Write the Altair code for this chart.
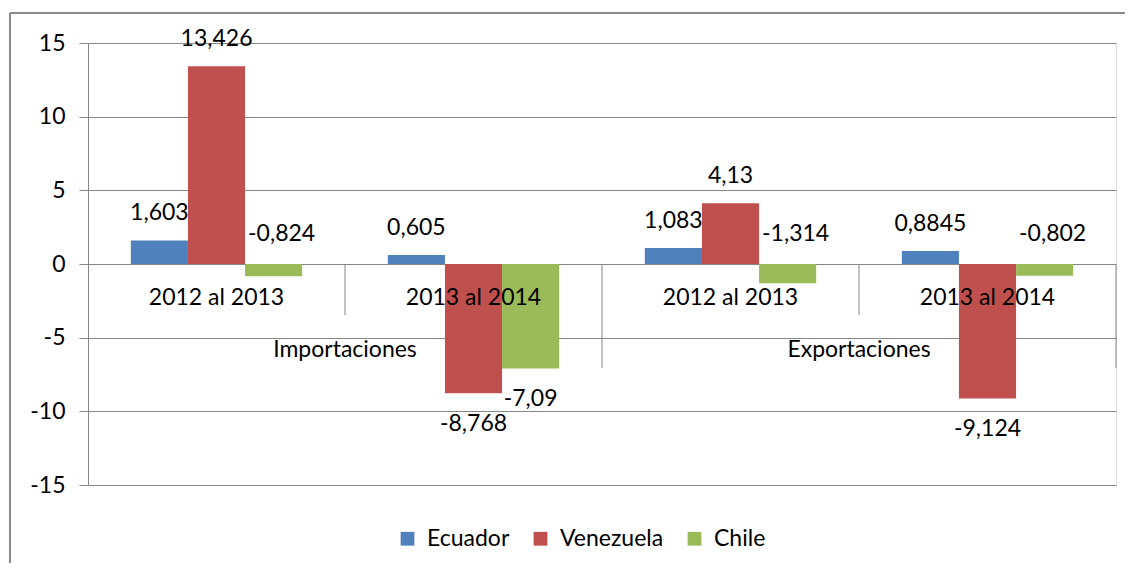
import altair as alt
import pandas as pd

FONT = "Lato"

groups = ["I1", "I2", "E1", "E2"]
periods = ["2012 al 2013", "2013 al 2014", "2012 al 2013", "2013 al 2014"]
flow_groups = ["I2", "E2"]
flows = ["Importaciones", "Exportaciones"]
series = ["Ecuador", "Venezuela", "Chile"]
ecuador = [1.603, 0.605, 1.083, 0.8845]
venezuela = [13.426, -8.768, 4.13, -9.124]
chile = [-0.824, -7.09, -1.314, -0.802]
colors = ["#4F81BD", "#C0504D", "#9BBB59"]
y_ticks = [-15, -10, -5, 0, 5, 10, 15]

rows = []
for i, g in enumerate(groups):
    for s, vals in zip(series, [ecuador, venezuela, chile]):
        rows.append({"g": g, "serie": s, "v": vals[i]})
df = pd.DataFrame(rows)
period_df = pd.DataFrame({"g": groups, "label": periods})
flow_df = pd.DataFrame({"g": flow_groups, "label": flows})
one = pd.DataFrame({"k": [0]})

GRAY = "#868686"

xscale = alt.Scale(domain=groups, paddingInner=0, paddingOuter=0)
xoff = alt.XOffset("serie:N", sort=series,
                   scale=alt.Scale(domain=series, paddingInner=0, paddingOuter=0.75))
yscale = alt.Scale(domain=[-15, 15], nice=False)

bars = alt.Chart(df).mark_bar().encode(
    x=alt.X("g:N", sort=groups, axis=None, scale=xscale),
    xOffset=xoff,
    y=alt.Y("v:Q", scale=yscale,
            axis=alt.Axis(values=y_ticks, title=None, grid=True, gridColor=GRAY,
                          gridWidth=1, domainColor=GRAY, tickColor=GRAY, tickSize=9,
                          labelPadding=14, labelFontSize=23, labelFont=FONT,
                          labelColor="black", labelExpr="toString(datum.value)")),
    color=alt.Color("serie:N", sort=series,
                    scale=alt.Scale(domain=series, range=colors),
                    legend=alt.Legend(orient="none", legendX=308, legendY=484,
                                      direction="horizontal", title=None,
                                      symbolType="square", symbolSize=190,
                                      symbolStrokeWidth=0, labelFontSize=23,
                                      labelFont=FONT, labelColor="black",
                                      columnPadding=19, labelOffset=8)),
)

text_base = alt.Chart(df).transform_calculate(
    lab="replace(toString(datum.v), '.', ',')", zero="0"
)
tx = alt.X("g:N", sort=groups, axis=None, scale=xscale)
pos_lab = text_base.transform_filter("datum.v > 0").mark_text(
    font=FONT, fontSize=23, dy=-27, baseline="middle", color="black"
).encode(x=tx, xOffset=xoff, y=alt.Y("v:Q", scale=yscale), text="lab:N")
small_neg = text_base.transform_filter("datum.v < 0 && datum.v > -2").mark_text(
    font=FONT, fontSize=23, dy=-30, dx=8, baseline="middle", color="black"
).encode(x=tx, xOffset=xoff, y=alt.Y("zero:Q", scale=yscale), text="lab:N")
big_neg = text_base.transform_filter("datum.v <= -2").mark_text(
    font=FONT, fontSize=23, dy=31, baseline="middle", color="black"
).encode(x=tx, xOffset=xoff, y=alt.Y("v:Q", scale=yscale), text="lab:N")

period_text = alt.Chart(period_df).mark_text(
    font=FONT, fontSize=23, baseline="middle", color="black"
).encode(x=alt.X("g:N", sort=groups, axis=None, scale=xscale),
         y=alt.value(255), text="label:N")
flow_text = alt.Chart(flow_df).mark_text(
    font=FONT, fontSize=23, baseline="middle", color="black"
).encode(x=alt.X("g:N", sort=groups, axis=None, scale=xscale, bandPosition=0),
         y=alt.value(307), text="label:N")

short_div = alt.Chart(pd.DataFrame({"g": ["I2", "E2"]})).mark_rule(
    color=GRAY, strokeWidth=1
).encode(x=alt.X("g:N", sort=groups, axis=None, scale=xscale, bandPosition=0),
         y=alt.datum(0, scale=yscale), y2=alt.value(272))
long_div = alt.Chart(pd.DataFrame({"g": ["E1"]})).mark_rule(
    color=GRAY, strokeWidth=1
).encode(x=alt.X("g:N", sort=groups, axis=None, scale=xscale, bandPosition=0),
         y=alt.datum(0), y2=alt.value(325))
right_div = alt.Chart(pd.DataFrame({"g": ["E2"]})).mark_rule(
    color=GRAY, strokeWidth=1
).encode(x=alt.X("g:N", sort=groups, axis=None, scale=xscale, bandPosition=1),
         y=alt.datum(0), y2=alt.value(325))

border_left = alt.Chart(one).mark_rule(color="#8a8a8a", strokeWidth=2).encode(
    x=alt.value(-78), y=alt.value(-30), y2=alt.value(600))
border_top = alt.Chart(one).mark_rule(color="#8a8a8a", strokeWidth=2).encode(
    x=alt.value(-78), x2=alt.value(1040), y=alt.value(-30))

chart = alt.layer(
    bars, short_div, long_div, right_div, period_text, flow_text,
    pos_lab, small_neg, big_neg, border_left, border_top
).properties(
    width=1028, height=442,
    autosize=alt.AutoSizeParams(type="none"),
    padding={"left": 80, "top": 35, "right": 9, "bottom": 78},
).configure_view(stroke=None).configure(background="white")

chart.save("out.html", embed_options={"renderer": "svg", "actions": False})
